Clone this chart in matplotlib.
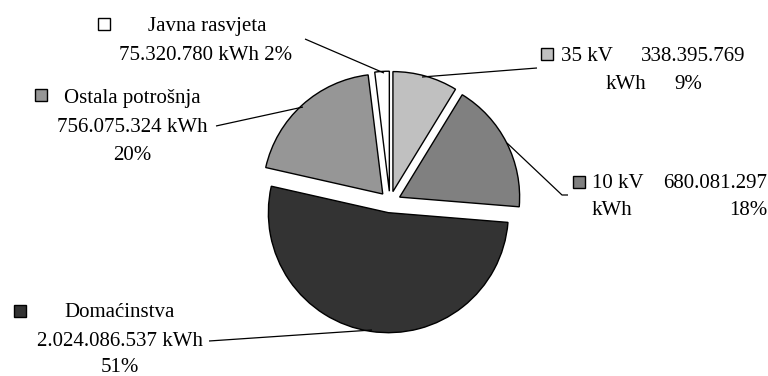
import matplotlib
matplotlib.use("Agg")
import matplotlib.pyplot as plt
from matplotlib.patches import Rectangle

# ---- data ----
categories = ["35 kV", "10 kV", "Domaćinstva", "Ostala potrošnja", "Javna rasvjeta"]
values_kwh = [338395769, 680081297, 2024086537, 756075324, 75320780]
value_labels = ["338.395.769", "680.081.297", "2.024.086.537", "756.075.324", "75.320.780"]
pct_labels = ["9%", "18%", "51%", "20%", "2%"]
colors = ["#C0C0C0", "#808080", "#333333", "#969696", "#FFFFFF"]

W, H = 768, 376
S = 120.0  # pixels per data unit (pie radius = 1)

def px(x):
    return x / S

def py(y):
    return (H - y) / S

plt.rcParams['font.family'] = ['Liberation Serif', 'DejaVu Serif']
FS = 15

fig = plt.figure(figsize=(W / 100, H / 100), dpi=100)
ax = fig.add_axes([0, 0, 1, 1])

ax.pie(values_kwh, colors=colors, startangle=90, counterclock=False,
       explode=[0.09] * len(values_kwh), radius=1.0,
       center=(px(390), py(202)),
       wedgeprops=dict(edgecolor="black", linewidth=1.0))
ax.set_xlim(0, W / S)
ax.set_ylim(0, H / S)
ax.set_aspect('equal')
ax.axis('off')

def square(cx, cy, color):
    s = 12
    ax.add_patch(Rectangle((px(cx - s / 2), py(cy + s / 2)), s / S, s / S,
                           facecolor=color, edgecolor="black", linewidth=1.0,
                           clip_on=False))

def txt(x, y, s, ha="center"):
    ax.text(px(x), py(y), s, ha=ha, va="baseline", fontsize=FS)

def line(pts):
    ax.plot([px(p[0]) for p in pts], [py(p[1]) for p in pts],
            color="black", linewidth=0.9, solid_capstyle="butt")

# Javna rasvjeta
square(104, 24, colors[4])
txt(207, 31, categories[4])
txt(206, 60, f"{value_labels[4]} kWh {pct_labels[4]}")
line([(305, 39), (384, 73)])

# Ostala potrošnja
square(41, 95, colors[3])
txt(132, 103, categories[3])
txt(132, 132, f"{value_labels[3]} kWh")
txt(132, 160, pct_labels[3])
line([(216, 126), (303, 107)])

# 35 kV
square(547, 54, colors[0])
txt(561, 61, categories[0], ha="left")
txt(745, 61, value_labels[0], ha="right")
txt(606, 89, "kWh", ha="left")
txt(702, 89, pct_labels[0], ha="right")
line([(537, 68), (422, 77)])

# 10 kV
square(579, 182, colors[1])
txt(592, 188, categories[1], ha="left")
txt(767, 188, value_labels[1], ha="right")
txt(592, 215, "kWh", ha="left")
txt(767, 215, pct_labels[1], ha="right")
line([(507, 143), (562, 195), (568, 195)])

# Domaćinstva
square(20, 311, colors[2])
txt(120, 317, categories[2])
txt(120, 346, f"{value_labels[2]} kWh")
txt(120, 372, pct_labels[2])
line([(209, 341), (372, 330)])

fig.savefig("out.png", dpi=100)
